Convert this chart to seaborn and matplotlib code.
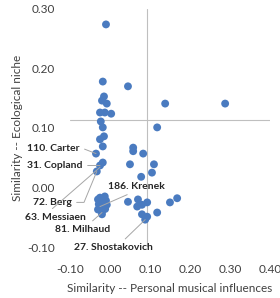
import matplotlib
matplotlib.use("Agg")
import matplotlib.pyplot as plt
import numpy as np
import pandas as pd
import seaborn as sns

# similarity values
influence = [
    -0.010, -0.018, 0.045, -0.015, -0.020, -0.008, 0.138, 0.288,
    -0.025, -0.013, 0.003, -0.023, -0.018, 0.118, -0.015, -0.025,
    -0.018, -0.035, -0.018, -0.025, -0.033, 0.058, 0.058, 0.083,
    0.050, 0.110, 0.105, 0.078,
    -0.025, -0.013, -0.018, -0.025, -0.008, -0.020, -0.030, -0.020,
    -0.015, -0.028, -0.010, -0.030, -0.012,
    0.045, 0.070, 0.068, 0.080, 0.093, 0.093, 0.080, 0.118, 0.088,
    0.150, 0.168,
]
niche = [
    0.274, 0.178, 0.170, 0.153, 0.146, 0.141, 0.141, 0.141,
    0.126, 0.126, 0.124, 0.111, 0.101, 0.101, 0.086, 0.081,
    0.069, 0.057, 0.042, 0.037, 0.027, 0.067, 0.061, 0.057,
    0.039, 0.039, 0.025, 0.018,
    -0.017, -0.015, -0.025, -0.032, -0.029, -0.040, -0.037, -0.045,
    -0.022, -0.028, -0.022, -0.020, -0.036,
    -0.024, -0.020, -0.032, -0.029, -0.025, -0.049, -0.045, -0.042, -0.054,
    -0.025, -0.018,
]

label_names = ["110. Carter", "31. Copland", "186. Krenek", "72. Berg",
               "63. Messiaen", "81. Milhaud", "27. Shostakovich"]
label_points = [(-0.035, 0.057), (-0.025, 0.037), (-0.025, -0.032), (-0.033, 0.027),
                (-0.025, 0.034), (-0.020, -0.042), (0.088, -0.054)]
label_text_pos = [(-0.075, 0.0655), (-0.0675, 0.037), (0.065, 0.002), (-0.095, -0.025),
                  (-0.060, -0.050), (0.000, -0.0706), (0.0075, -0.101)]
label_ha = ["right", "right", "center", "right", "right", "right", "center"]
label_relpos = [(1, 0.5), (1, 0.5), (0.5, 0), (1, 0.5), (0.37, 1), (0.6, 1), (0.6, 1)]
label_conn = ["arc,angleA=0,armA=3,angleB=0,armB=0,rad=0", "arc3", "arc3",
              "arc,angleA=0,armA=12,angleB=0,armB=0,rad=0", "arc3", "arc3", "arc3"]

df = pd.DataFrame({"influence": influence, "niche": niche})

sns.set_style("white")
plt.rcParams["font.family"] = ["Lato", "DejaVu Sans"]

fig = plt.figure(figsize=(2.8, 2.98), dpi=100)
ax = fig.add_axes([0.25, 0.171, 0.714, 0.799])

sns.scatterplot(data=df, x="influence", y="niche", ax=ax, s=32,
                color="#4a7bc0", edgecolor="none", linewidth=0, zorder=3)

ax.set_xlim(-0.10, 0.40)
ax.set_ylim(-0.10, 0.30)
ax.set_xticks(np.arange(-0.10, 0.41, 0.10))
ax.set_yticks(np.arange(-0.10, 0.31, 0.10))
ax.set_xticklabels([f"{v:.2f}" for v in np.arange(-0.10, 0.41, 0.10)])
ax.set_yticklabels([f"{v:.2f}" for v in np.arange(-0.10, 0.31, 0.10)])
ax.tick_params(length=0, labelsize=8.5, colors="#404040")
ax.tick_params(axis="x", pad=12)
ax.tick_params(axis="y", pad=11)
for sp in ax.spines.values():
    sp.set_visible(False)

# axis lines cross inside the plot
ax.axhline(0.113, color="#bfbfbf", lw=0.8, zorder=1)
ax.axvline(0.092, color="#bfbfbf", lw=0.8, zorder=1)

ax.set_xlabel("Similarity -- Personal musical influences", fontsize=8.5,
              color="#404040", labelpad=6)
ax.set_ylabel("Similarity -- Ecological niche", fontsize=8.5,
              color="#404040", labelpad=3)

for name, pt, tp, ha, rp, cs in zip(label_names, label_points, label_text_pos,
                                    label_ha, label_relpos, label_conn):
    ax.annotate(name, xy=pt, xytext=tp, ha=ha, va="center", fontsize=7.5,
                fontweight="bold", color="#262626", annotation_clip=False,
                zorder=4,
                arrowprops=dict(arrowstyle="-", color="#a6a6a6", lw=0.7,
                                relpos=rp, shrinkA=1, shrinkB=0,
                                connectionstyle=cs))

fig.savefig("out.png", dpi=100)
